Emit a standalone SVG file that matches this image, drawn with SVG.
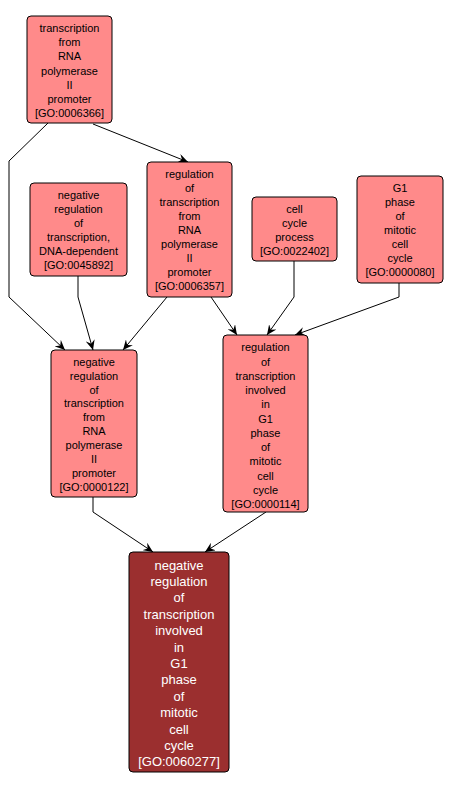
<svg xmlns="http://www.w3.org/2000/svg" width="453" height="791" viewBox="0 0 453 791">
<defs>
<style>
.n rect{fill:#ff8a8a;stroke:#000;stroke-width:1}
.n text{font-family:"Liberation Sans",Arial,sans-serif;font-size:11px;fill:#000;text-anchor:middle}
.d rect{fill:#9b2f2f;stroke:#000;stroke-width:1}
.d text{font-family:"Liberation Sans",Arial,sans-serif;font-size:13px;fill:#fff;text-anchor:middle}
.e{fill:none;stroke:#000;stroke-width:1;marker-end:url(#ah)}
</style>
<marker id="ah" markerUnits="userSpaceOnUse" markerWidth="10" markerHeight="9" refX="10" refY="4.5" orient="auto">
<path d="M0,0 L10,4.5 L0,9 L3.5,4.5 z" fill="#000"/>
</marker>
</defs>
<rect width="453" height="791" fill="#fff"/>
<g id="edges">
<polyline class="e" points="48,123 9,161 9,297 65,350"/>
<polyline class="e" points="93,124 188,162"/>
<polyline class="e" points="78,276 78,297 93,350"/>
<polyline class="e" points="167,297 123,350"/>
<polyline class="e" points="211,297 237,335"/>
<polyline class="e" points="294,261 294,297 267,335"/>
<polyline class="e" points="399,283 399,297 295,335"/>
<polyline class="e" points="93,497 93,512 153,552"/>
<polyline class="e" points="266,512 205,552"/>
</g>
<g id="GO0006366" class="n">
<rect x="27" y="16" width="85" height="107" rx="4"/>
<text x="69.5" y="32">transcription</text>
<text x="69.5" y="46.2">from</text>
<text x="69.5" y="60.3">RNA</text>
<text x="69.5" y="74.5">polymerase</text>
<text x="69.5" y="88.7">II</text>
<text x="69.5" y="102.8">promoter</text>
<text x="69.5" y="117">[GO:0006366]</text>
</g>
<g id="GO0045892" class="n">
<rect x="30" y="183" width="97" height="93" rx="4"/>
<text x="78.5" y="199">negative</text>
<text x="78.5" y="213">regulation</text>
<text x="78.5" y="227">of</text>
<text x="78.5" y="241">transcription,</text>
<text x="78.5" y="255">DNA-dependent</text>
<text x="78.5" y="269">[GO:0045892]</text>
</g>
<g id="GO0006357" class="n">
<rect x="147" y="162" width="85" height="135" rx="4"/>
<text x="189.5" y="178.3">regulation</text>
<text x="189.5" y="192.2">of</text>
<text x="189.5" y="206.2">transcription</text>
<text x="189.5" y="220.2">from</text>
<text x="189.5" y="234.1">RNA</text>
<text x="189.5" y="248.1">polymerase</text>
<text x="189.5" y="262.1">II</text>
<text x="189.5" y="276">promoter</text>
<text x="189.5" y="290">[GO:0006357]</text>
</g>
<g id="GO0022402" class="n">
<rect x="252" y="197" width="85" height="64" rx="4"/>
<text x="294.5" y="213.3">cell</text>
<text x="294.5" y="227.2">cycle</text>
<text x="294.5" y="241.1">process</text>
<text x="294.5" y="255">[GO:0022402]</text>
</g>
<g id="GO0000080" class="n">
<rect x="357" y="176" width="86" height="107" rx="4"/>
<text x="400" y="192.3">G1</text>
<text x="400" y="206.3">phase</text>
<text x="400" y="220.3">of</text>
<text x="400" y="234.2">mitotic</text>
<text x="400" y="248.2">cell</text>
<text x="400" y="262.1">cycle</text>
<text x="400" y="276">[GO:0000080]</text>
</g>
<g id="GO0000122" class="n">
<rect x="51" y="350" width="86" height="147" rx="4"/>
<text x="94" y="365.7">negative</text>
<text x="94" y="379.6">regulation</text>
<text x="94" y="393.5">of</text>
<text x="94" y="407.4">transcription</text>
<text x="94" y="421.3">from</text>
<text x="94" y="435.2">RNA</text>
<text x="94" y="449.1">polymerase</text>
<text x="94" y="463">II</text>
<text x="94" y="476.9">promoter</text>
<text x="94" y="490.7">[GO:0000122]</text>
</g>
<g id="GO0000114" class="n">
<rect x="223" y="335" width="85" height="177" rx="4"/>
<text x="265.5" y="351.3">regulation</text>
<text x="265.5" y="365.5">of</text>
<text x="265.5" y="379.8">transcription</text>
<text x="265.5" y="394">involved</text>
<text x="265.5" y="408.3">in</text>
<text x="265.5" y="422.5">G1</text>
<text x="265.5" y="436.7">phase</text>
<text x="265.5" y="451">of</text>
<text x="265.5" y="465.2">mitotic</text>
<text x="265.5" y="479.5">cell</text>
<text x="265.5" y="493.7">cycle</text>
<text x="265.5" y="508">[GO:0000114]</text>
</g>
<g id="GO0060277" class="d">
<rect x="129" y="552" width="100" height="220" rx="4"/>
<text x="179" y="569.5">negative</text>
<text x="179" y="585.9">regulation</text>
<text x="179" y="602.3">of</text>
<text x="179" y="618.7">transcription</text>
<text x="179" y="635.1">involved</text>
<text x="179" y="651.5">in</text>
<text x="179" y="667.9">G1</text>
<text x="179" y="684.3">phase</text>
<text x="179" y="700.7">of</text>
<text x="179" y="717.1">mitotic</text>
<text x="179" y="733.5">cell</text>
<text x="179" y="749.9">cycle</text>
<text x="179" y="766.2">[GO:0060277]</text>
</g>
</svg>
